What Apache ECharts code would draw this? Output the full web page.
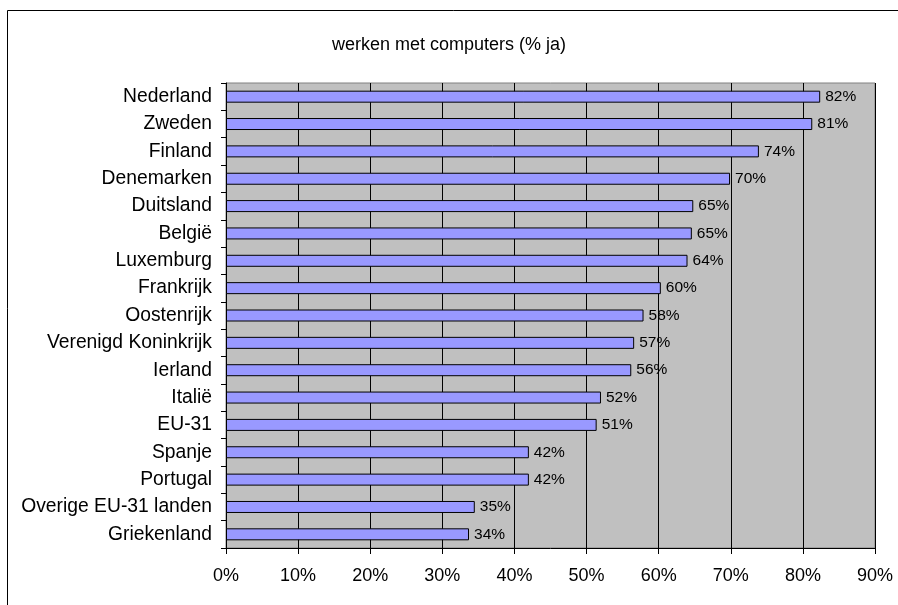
<!DOCTYPE html>
<html>
<head>
<meta charset="utf-8">
<script src="https://cdn.jsdelivr.net/npm/echarts@6/dist/echarts.min.js"></script>
<style>
  html, body { margin: 0; padding: 0; background: #fff; }
  #chart { width: 898px; height: 605px; }
</style>
</head>
<body>
<div id="chart"></div>
<script>
// landen, van boven naar beneden
const landen = [
    'Nederland', 'Zweden', 'Finland', 'Denemarken', 'Duitsland', 'België',
    'Luxemburg', 'Frankrijk', 'Oostenrijk', 'Verenigd Koninkrijk', 'Ierland',
    'Italië', 'EU-31', 'Spanje', 'Portugal', 'Overige EU-31 landen', 'Griekenland'
];
// % ja
const waarden = [82.4, 81.3, 73.9, 69.9, 64.8, 64.6, 64.0, 60.3, 57.9, 56.6, 56.2, 52.0, 51.4, 42.0, 42.0, 34.5, 33.7];
const xTicks = [0, 10, 20, 30, 40, 50, 60, 70, 80, 90];

const chart = echarts.init(document.getElementById('chart'));

const option = {
    backgroundColor: '#fff',
    animation: false,
    textStyle: { fontFamily: 'Liberation Sans, Arial, sans-serif' },
    title: {
        text: 'werken met computers (% ja)',
        left: 'center',
        top: 31,
        textStyle: { fontSize: 18, fontWeight: 'normal', color: '#000', fontFamily: 'Liberation Sans, Arial, sans-serif' }
    },
    graphic: [{
        type: 'rect',
        shape: { x: 7.5, y: 10.5, width: 1000, height: 1000 },
        style: { fill: 'none', stroke: '#000', lineWidth: 1 },
        z: -1
    }],
    grid: {
        left: 226, right: 23, top: 83, bottom: 57,
        show: true,
        backgroundColor: '#C0C0C0',
        borderColor: '#808080',
        borderWidth: 1
    },
    xAxis: {
        type: 'value',
        min: xTicks[0],
        max: xTicks[xTicks.length - 1],
        interval: 10,
        axisLine: { show: true, lineStyle: { color: '#000', width: 1 } },
        axisTick: { show: true, length: 6, lineStyle: { color: '#000' } },
        axisLabel: { formatter: '{value}%', color: '#000', fontSize: 18, margin: 19 },
        splitLine: { show: true, lineStyle: { color: '#000', width: 1 } }
    },
    yAxis: {
        type: 'category',
        data: landen,
        inverse: true,
        axisLine: { show: true, lineStyle: { color: '#000', width: 1 } },
        axisTick: { show: true, length: 5, lineStyle: { color: '#000' } },
        axisLabel: { color: '#000', fontSize: 19.3, margin: 14 }
    },
    series: [{
        type: 'bar',
        data: waarden,
        barWidth: 12,
        itemStyle: { color: '#9999FF', borderColor: '#000', borderWidth: 1 },
        label: {
            show: true,
            position: 'right',
            distance: 5,
            color: '#000',
            fontSize: 15.5,
            formatter: function (p) { return Math.round(p.value) + '%'; }
        }
    }]
};

chart.setOption(option);
</script>
</body>
</html>
